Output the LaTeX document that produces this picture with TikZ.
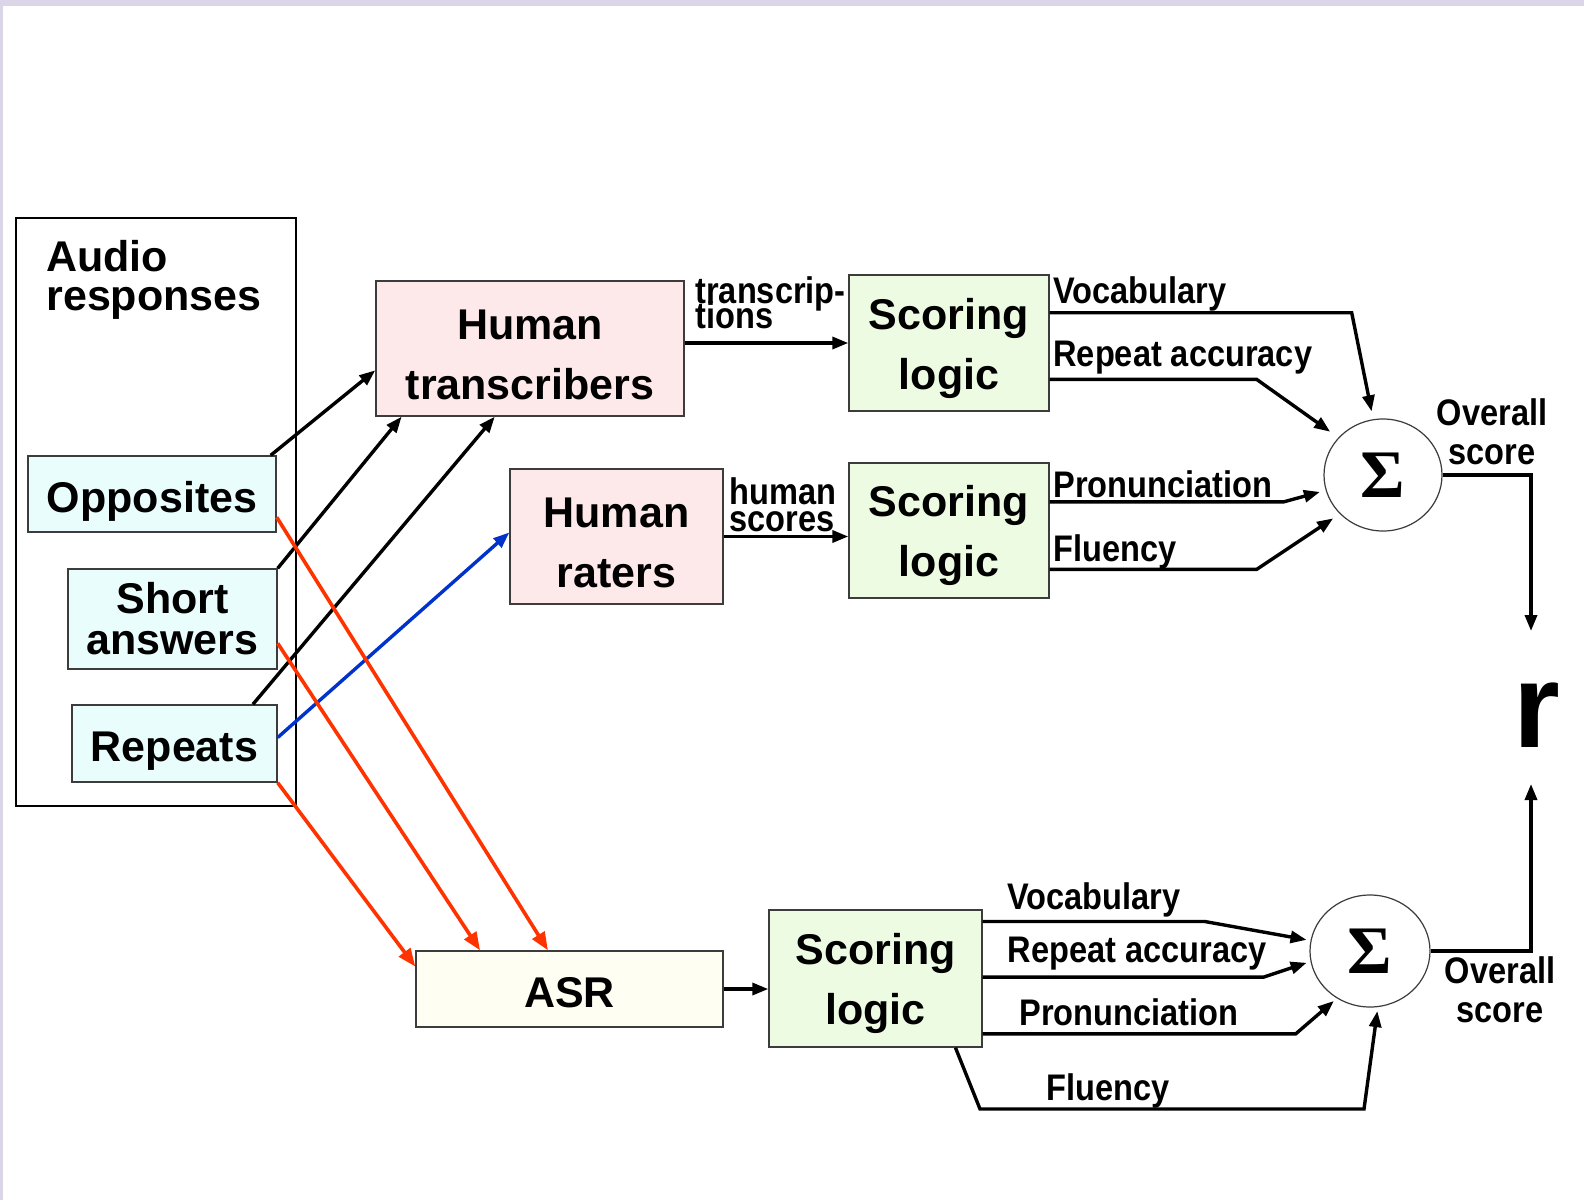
\documentclass[tikz,border=0pt]{standalone}
\usepackage{fontspec}
\setmainfont{Liberation Sans}
\newfontfamily\narrowfont[FakeStretch=0.88]{Liberation Sans}
\newfontfamily\sigmafont{Liberation Serif}
\usetikzlibrary{arrows.meta,calc,shapes.geometric}
\definecolor{slidebg}{HTML}{DAD6E8}
\definecolor{boxline}{HTML}{3C3C3C}
\definecolor{humanfill}{HTML}{FDE9E9}
\definecolor{logicfill}{HTML}{EDFBE3}
\definecolor{taskfill}{HTML}{E9FDFD}
\definecolor{asrfill}{HTML}{FEFEF2}
\definecolor{asrred}{HTML}{FF3300}
\definecolor{raterblue}{HTML}{0033CC}
\newcommand\toppad{\rule{0pt}{21pt}}
\newcommand\tightlines{\lineskiplimit=-20pt\relax}
\begin{document}
\begin{tikzpicture}[x=0.5pt,y=-0.5pt,
    >={Triangle[length=8pt,width=6pt]},
    box/.style={draw=boxline,line width=0.7pt,inner sep=0pt,align=center,
      font=\bfseries\fontsize{21.5}{30}\selectfont},
    onebox/.style={box,text height=19pt,text depth=1pt},
    tag/.style={inner sep=0pt,font=\narrowfont\bfseries\fontsize{18.5}{19.5}\selectfont},
    feed/.style={->,line width=1.7pt},
    asrfeed/.style={-{Triangle[length=9pt,width=7pt]},line width=1.8pt,draw=asrred},
    sumnode/.style={ellipse,draw=boxline,line width=0.6pt,fill=white,inner sep=0pt,
      font=\sigmafont\bfseries\fontsize{34}{34}\selectfont}]
    \useasboundingbox (0,0) rectangle (1584,1200);
    \fill[slidebg] (0,0) rectangle (1584,1200);
    \fill[white] (3,6) rectangle (1584,1200);

    \node[draw,line width=0.6pt,minimum width=140pt,minimum height=294pt] (audio) at (156,512) {};
    \node[anchor=north west,align=left,inner sep=0pt,font=\bfseries\fontsize{21.5}{19.5}\selectfont] (audiolbl) at (46,240) {Audio\\responses};
    \node[onebox,fill=taskfill,minimum width=124pt,minimum height=38pt] (opp) at (152,494) {Opposites};
    \node[box,fill=taskfill,minimum width=104.5pt,minimum height=50pt,font=\bfseries\fontsize{21.5}{20.5}\selectfont] (short) at (172.5,619) {Short\\answers};
    \node[onebox,fill=taskfill,minimum width=102.5pt,minimum height=38.5pt] (rep) at (174.5,743.5) {Repeats};

    \node[box,fill=humanfill,minimum width=154pt,minimum height=67.5pt] (ht) at (530,348.5) {\toppad Human\\transcribers};
    \node[box,fill=humanfill,minimum width=106.5pt,minimum height=67.5pt] (hr) at (616.5,536.5) {\toppad Human\\raters};
    \node[onebox,fill=asrfill,minimum width=153.5pt,minimum height=38pt] (asr) at (569.5,989) {ASR};

    \node[box,fill=logicfill,minimum width=100pt,minimum height=68pt] (sl1) at (949,343) {\toppad Scoring\\logic};
    \node[box,fill=logicfill,minimum width=100pt,minimum height=67.5pt] (sl2) at (949,530.5) {\toppad Scoring\\logic};
    \node[box,fill=logicfill,minimum width=106.5pt,minimum height=68.5pt] (sl3) at (875.5,978.5) {\toppad Scoring\\logic};

    \node[sumnode,minimum width=59pt,minimum height=56pt] (sum1) at (1383,475) {Σ};
    \node[sumnode,minimum width=60pt,minimum height=56pt] (sum2) at (1370,951) {Σ};
    \node[inner sep=0pt,anchor=base,font=\bfseries\fontsize{60}{60}\selectfont] (r) at (1537,747) {r};
    \coordinate (rtop) at (1531,631);
    \coordinate (rbot) at (1531,784);

    \draw[feed] ([xshift=-3pt]opp.north east) -- ($(ht.north west)!0.66!(ht.south west)$);
    \draw[feed] (short.north east) -- ($(ht.south west)!0.085!(ht.south east)$);
    \draw[feed] ($(rep.north west)!0.88!(rep.north east)$) -- ($(ht.south west)!0.386!(ht.south east)$);
    \draw[feed,draw=raterblue] ([yshift=3pt]rep.east) -- ([yshift=2pt]hr.west);

    \draw[asrfeed] ($(opp.north east)!0.8!(opp.south east)$) -- ($(asr.north west)!0.43!(asr.north east)$);
    \draw[asrfeed] ($(short.north east)!0.74!(short.south east)$) -- ($(asr.north west)!0.21!(asr.north east)$);
    \draw[asrfeed] (rep.south east) -- ($(asr.north west)!0.21!(asr.south west)$);

    \draw[feed] (ht.east |- sl1.west) -- (sl1.west);
    \draw[feed] (hr.east) -- (hr.east -| sl2.west);
    \draw[feed] (asr.east) -- (asr.east -| sl3.west);
    \node[tag,anchor=north west,align=left,font=\narrowfont\bfseries\fontsize{18.5}{12.5}\selectfont\tightlines] (trlbl) at (695,276) {transcrip-\\tions};
    \node[tag,anchor=north west,align=left,font=\narrowfont\bfseries\fontsize{18.5}{13.5}\selectfont\tightlines] (hslbl) at (729,477) {human\\scores};

    \draw[feed,shorten >=4pt] ($(sl1.north east)!0.28!(sl1.south east)$) -- ++(302,0) -- (sum1.100);
    \draw[feed,shorten >=5pt] ($(sl1.north east)!0.765!(sl1.south east)$) -- ++(207,0) -- (sum1.140);
    \draw[feed,shorten >=3pt] ($(sl2.north east)!0.29!(sl2.south east)$) -- ++(234,0) -- (sum1.195);
    \draw[feed,shorten >=4pt] ($(sl2.north east)!0.785!(sl2.south east)$) -- ++(207,0) -- (sum1.222);
    \node[tag,anchor=base west] (voc1) at (1053,303) {Vocabulary};
    \node[tag,anchor=base west] (acc1) at (1053,366) {Repeat accuracy};
    \node[tag,anchor=base west] (pro1) at (1053,497) {Pronunciation};
    \node[tag,anchor=base west] (flu1) at (1053,561) {Fluency};

    \draw[feed,shorten >=2pt] ($(sl3.north east)!0.088!(sl3.south east)$) -- ++(222,0) -- (sum2.170);
    \draw[feed,shorten >=2pt] ($(sl3.north east)!0.49!(sl3.south east)$) -- ++(281,0) -- (sum2.190);
    \draw[feed,shorten >=2pt] ($(sl3.north east)!0.9!(sl3.south east)$) -- ++(313,0) -- (sum2.235);
    \draw[feed,shorten >=2pt] ($(sl3.south west)!0.873!(sl3.south east)$) -- (980,1109) -- (1364,1109) -- (sum2.278);
    \node[tag,anchor=base] (voc3) at (1094,909) {Vocabulary};
    \node[tag,anchor=base] (acc3) at (1137,962) {Repeat accuracy};
    \node[tag,anchor=base] (pro3) at (1129,1025) {Pronunciation};
    \node[tag,anchor=base] (flu3) at (1108,1100) {Fluency};

    \draw[feed] (sum1.east) -| (rtop);
    \draw[feed] (sum2.east) -| (rbot);
    \node[tag,anchor=north,align=center] (ovr1) at (1492,398) {Overall\\score};
    \node[tag,anchor=north,align=center] (ovr2) at (1500,956) {Overall\\score};
\end{tikzpicture}
\end{document}
